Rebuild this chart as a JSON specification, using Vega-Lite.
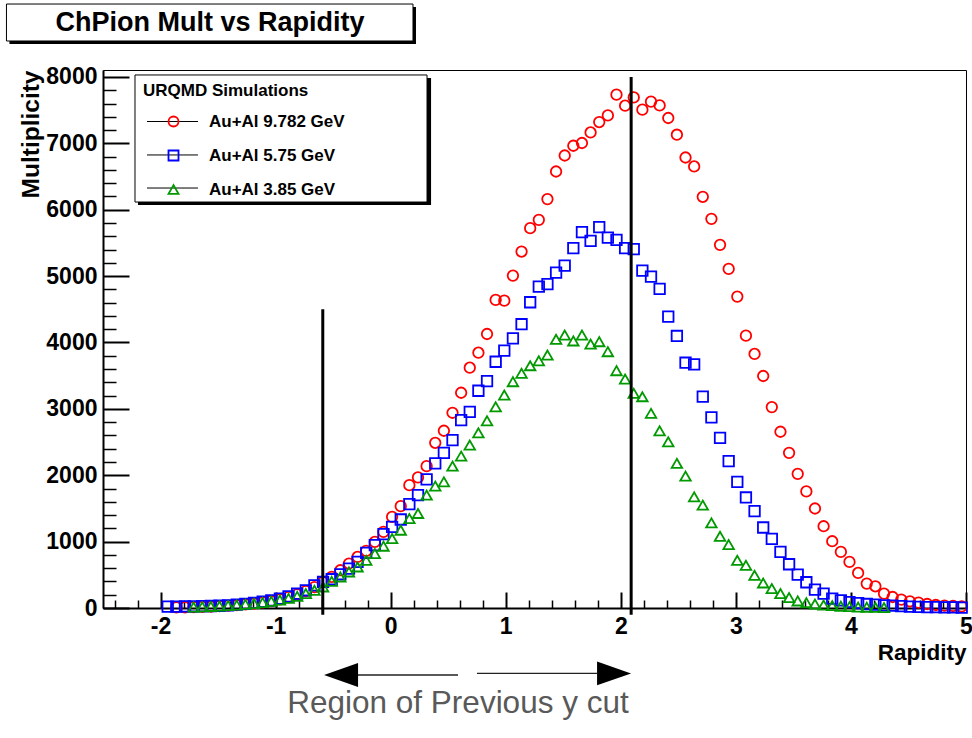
{
  "$schema": "https://vega.github.io/schema/vega-lite/v6.json",
  "width": 863,
  "height": 538,
  "autosize": {"type": "none"},
  "padding": {"left": 103, "top": 70, "right": 6, "bottom": 130},
  "background": "white",
  "config": {
    "view": {"stroke": "black", "strokeWidth": 1},
    "font": "Liberation Sans",
    "axis": {"grid": false, "domainColor": "black", "tickColor": "black", "labelColor": "black", "titleColor": "black"}
  },
  "resolve": {"axis": {"x": "independent", "y": "independent"}},
  "layer": [
    {
      "data": {"values": [
        {"rapidity": -1.8625, "mult": 8, "sample": "Au+Al 9.782 GeV"},
        {"rapidity": -1.7875, "mult": 10, "sample": "Au+Al 9.782 GeV"},
        {"rapidity": -1.7125, "mult": 13, "sample": "Au+Al 9.782 GeV"},
        {"rapidity": -1.6375, "mult": 17, "sample": "Au+Al 9.782 GeV"},
        {"rapidity": -1.5625, "mult": 22, "sample": "Au+Al 9.782 GeV"},
        {"rapidity": -1.4875, "mult": 28, "sample": "Au+Al 9.782 GeV"},
        {"rapidity": -1.4125, "mult": 35, "sample": "Au+Al 9.782 GeV"},
        {"rapidity": -1.3375, "mult": 44, "sample": "Au+Al 9.782 GeV"},
        {"rapidity": -1.2625, "mult": 55, "sample": "Au+Al 9.782 GeV"},
        {"rapidity": -1.1875, "mult": 68, "sample": "Au+Al 9.782 GeV"},
        {"rapidity": -1.1125, "mult": 85, "sample": "Au+Al 9.782 GeV"},
        {"rapidity": -1.0375, "mult": 105, "sample": "Au+Al 9.782 GeV"},
        {"rapidity": -0.9625, "mult": 130, "sample": "Au+Al 9.782 GeV"},
        {"rapidity": -0.8875, "mult": 165, "sample": "Au+Al 9.782 GeV"},
        {"rapidity": -0.8125, "mult": 205, "sample": "Au+Al 9.782 GeV"},
        {"rapidity": -0.7375, "mult": 255, "sample": "Au+Al 9.782 GeV"},
        {"rapidity": -0.6625, "mult": 315, "sample": "Au+Al 9.782 GeV"},
        {"rapidity": -0.5875, "mult": 392, "sample": "Au+Al 9.782 GeV"},
        {"rapidity": -0.5125, "mult": 468, "sample": "Au+Al 9.782 GeV"},
        {"rapidity": -0.4375, "mult": 569, "sample": "Au+Al 9.782 GeV"},
        {"rapidity": -0.3625, "mult": 670, "sample": "Au+Al 9.782 GeV"},
        {"rapidity": -0.2875, "mult": 769, "sample": "Au+Al 9.782 GeV"},
        {"rapidity": -0.2125, "mult": 860, "sample": "Au+Al 9.782 GeV"},
        {"rapidity": -0.1375, "mult": 995, "sample": "Au+Al 9.782 GeV"},
        {"rapidity": -0.0625, "mult": 1146, "sample": "Au+Al 9.782 GeV"},
        {"rapidity": 0.0125, "mult": 1373, "sample": "Au+Al 9.782 GeV"},
        {"rapidity": 0.0875, "mult": 1534, "sample": "Au+Al 9.782 GeV"},
        {"rapidity": 0.1625, "mult": 1851, "sample": "Au+Al 9.782 GeV"},
        {"rapidity": 0.2375, "mult": 1967, "sample": "Au+Al 9.782 GeV"},
        {"rapidity": 0.3125, "mult": 2137, "sample": "Au+Al 9.782 GeV"},
        {"rapidity": 0.3875, "mult": 2489, "sample": "Au+Al 9.782 GeV"},
        {"rapidity": 0.4625, "mult": 2670, "sample": "Au+Al 9.782 GeV"},
        {"rapidity": 0.5375, "mult": 2941, "sample": "Au+Al 9.782 GeV"},
        {"rapidity": 0.6125, "mult": 3243, "sample": "Au+Al 9.782 GeV"},
        {"rapidity": 0.6875, "mult": 3620, "sample": "Au+Al 9.782 GeV"},
        {"rapidity": 0.7625, "mult": 3846, "sample": "Au+Al 9.782 GeV"},
        {"rapidity": 0.8375, "mult": 4128, "sample": "Au+Al 9.782 GeV"},
        {"rapidity": 0.9125, "mult": 4641, "sample": "Au+Al 9.782 GeV"},
        {"rapidity": 0.9875, "mult": 4630, "sample": "Au+Al 9.782 GeV"},
        {"rapidity": 1.0625, "mult": 5008, "sample": "Au+Al 9.782 GeV"},
        {"rapidity": 1.1375, "mult": 5370, "sample": "Au+Al 9.782 GeV"},
        {"rapidity": 1.2125, "mult": 5722, "sample": "Au+Al 9.782 GeV"},
        {"rapidity": 1.2875, "mult": 5848, "sample": "Au+Al 9.782 GeV"},
        {"rapidity": 1.3625, "mult": 6160, "sample": "Au+Al 9.782 GeV"},
        {"rapidity": 1.4375, "mult": 6576, "sample": "Au+Al 9.782 GeV"},
        {"rapidity": 1.5125, "mult": 6817, "sample": "Au+Al 9.782 GeV"},
        {"rapidity": 1.5875, "mult": 6964, "sample": "Au+Al 9.782 GeV"},
        {"rapidity": 1.6625, "mult": 7005, "sample": "Au+Al 9.782 GeV"},
        {"rapidity": 1.7375, "mult": 7164, "sample": "Au+Al 9.782 GeV"},
        {"rapidity": 1.8125, "mult": 7321, "sample": "Au+Al 9.782 GeV"},
        {"rapidity": 1.8875, "mult": 7421, "sample": "Au+Al 9.782 GeV"},
        {"rapidity": 1.9625, "mult": 7733, "sample": "Au+Al 9.782 GeV"},
        {"rapidity": 2.0375, "mult": 7567, "sample": "Au+Al 9.782 GeV"},
        {"rapidity": 2.1125, "mult": 7692, "sample": "Au+Al 9.782 GeV"},
        {"rapidity": 2.1875, "mult": 7507, "sample": "Au+Al 9.782 GeV"},
        {"rapidity": 2.2625, "mult": 7628, "sample": "Au+Al 9.782 GeV"},
        {"rapidity": 2.3375, "mult": 7572, "sample": "Au+Al 9.782 GeV"},
        {"rapidity": 2.4125, "mult": 7382, "sample": "Au+Al 9.782 GeV"},
        {"rapidity": 2.4875, "mult": 7130, "sample": "Au+Al 9.782 GeV"},
        {"rapidity": 2.5625, "mult": 6787, "sample": "Au+Al 9.782 GeV"},
        {"rapidity": 2.6375, "mult": 6652, "sample": "Au+Al 9.782 GeV"},
        {"rapidity": 2.7125, "mult": 6195, "sample": "Au+Al 9.782 GeV"},
        {"rapidity": 2.7875, "mult": 5863, "sample": "Au+Al 9.782 GeV"},
        {"rapidity": 2.8625, "mult": 5471, "sample": "Au+Al 9.782 GeV"},
        {"rapidity": 2.9375, "mult": 5108, "sample": "Au+Al 9.782 GeV"},
        {"rapidity": 3.0125, "mult": 4691, "sample": "Au+Al 9.782 GeV"},
        {"rapidity": 3.0875, "mult": 4103, "sample": "Au+Al 9.782 GeV"},
        {"rapidity": 3.1625, "mult": 3827, "sample": "Au+Al 9.782 GeV"},
        {"rapidity": 3.2375, "mult": 3495, "sample": "Au+Al 9.782 GeV"},
        {"rapidity": 3.3125, "mult": 3027, "sample": "Au+Al 9.782 GeV"},
        {"rapidity": 3.3875, "mult": 2655, "sample": "Au+Al 9.782 GeV"},
        {"rapidity": 3.4625, "mult": 2338, "sample": "Au+Al 9.782 GeV"},
        {"rapidity": 3.5375, "mult": 2021, "sample": "Au+Al 9.782 GeV"},
        {"rapidity": 3.6125, "mult": 1756, "sample": "Au+Al 9.782 GeV"},
        {"rapidity": 3.6875, "mult": 1499, "sample": "Au+Al 9.782 GeV"},
        {"rapidity": 3.7625, "mult": 1232, "sample": "Au+Al 9.782 GeV"},
        {"rapidity": 3.8375, "mult": 1006, "sample": "Au+Al 9.782 GeV"},
        {"rapidity": 3.9125, "mult": 845, "sample": "Au+Al 9.782 GeV"},
        {"rapidity": 3.9875, "mult": 694, "sample": "Au+Al 9.782 GeV"},
        {"rapidity": 4.0625, "mult": 528, "sample": "Au+Al 9.782 GeV"},
        {"rapidity": 4.1375, "mult": 368, "sample": "Au+Al 9.782 GeV"},
        {"rapidity": 4.2125, "mult": 327, "sample": "Au+Al 9.782 GeV"},
        {"rapidity": 4.2875, "mult": 217, "sample": "Au+Al 9.782 GeV"},
        {"rapidity": 4.3625, "mult": 166, "sample": "Au+Al 9.782 GeV"},
        {"rapidity": 4.4375, "mult": 127, "sample": "Au+Al 9.782 GeV"},
        {"rapidity": 4.5125, "mult": 101, "sample": "Au+Al 9.782 GeV"},
        {"rapidity": 4.5875, "mult": 81, "sample": "Au+Al 9.782 GeV"},
        {"rapidity": 4.6625, "mult": 60, "sample": "Au+Al 9.782 GeV"},
        {"rapidity": 4.7375, "mult": 45, "sample": "Au+Al 9.782 GeV"},
        {"rapidity": 4.8125, "mult": 35, "sample": "Au+Al 9.782 GeV"},
        {"rapidity": 4.8875, "mult": 30, "sample": "Au+Al 9.782 GeV"},
        {"rapidity": 4.9625, "mult": 25, "sample": "Au+Al 9.782 GeV"},
        {"rapidity": -1.9375, "mult": 20, "sample": "Au+Al 5.75 GeV"},
        {"rapidity": -1.8625, "mult": 22, "sample": "Au+Al 5.75 GeV"},
        {"rapidity": -1.7875, "mult": 24, "sample": "Au+Al 5.75 GeV"},
        {"rapidity": -1.7125, "mult": 26, "sample": "Au+Al 5.75 GeV"},
        {"rapidity": -1.6375, "mult": 28, "sample": "Au+Al 5.75 GeV"},
        {"rapidity": -1.5625, "mult": 30, "sample": "Au+Al 5.75 GeV"},
        {"rapidity": -1.4875, "mult": 34, "sample": "Au+Al 5.75 GeV"},
        {"rapidity": -1.4125, "mult": 40, "sample": "Au+Al 5.75 GeV"},
        {"rapidity": -1.3375, "mult": 50, "sample": "Au+Al 5.75 GeV"},
        {"rapidity": -1.2625, "mult": 62, "sample": "Au+Al 5.75 GeV"},
        {"rapidity": -1.1875, "mult": 78, "sample": "Au+Al 5.75 GeV"},
        {"rapidity": -1.1125, "mult": 95, "sample": "Au+Al 5.75 GeV"},
        {"rapidity": -1.0375, "mult": 115, "sample": "Au+Al 5.75 GeV"},
        {"rapidity": -0.9625, "mult": 140, "sample": "Au+Al 5.75 GeV"},
        {"rapidity": -0.8875, "mult": 175, "sample": "Au+Al 5.75 GeV"},
        {"rapidity": -0.8125, "mult": 215, "sample": "Au+Al 5.75 GeV"},
        {"rapidity": -0.7375, "mult": 267, "sample": "Au+Al 5.75 GeV"},
        {"rapidity": -0.6625, "mult": 342, "sample": "Au+Al 5.75 GeV"},
        {"rapidity": -0.5875, "mult": 392, "sample": "Au+Al 5.75 GeV"},
        {"rapidity": -0.5125, "mult": 433, "sample": "Au+Al 5.75 GeV"},
        {"rapidity": -0.4375, "mult": 508, "sample": "Au+Al 5.75 GeV"},
        {"rapidity": -0.3625, "mult": 594, "sample": "Au+Al 5.75 GeV"},
        {"rapidity": -0.2875, "mult": 694, "sample": "Au+Al 5.75 GeV"},
        {"rapidity": -0.2125, "mult": 830, "sample": "Au+Al 5.75 GeV"},
        {"rapidity": -0.1375, "mult": 946, "sample": "Au+Al 5.75 GeV"},
        {"rapidity": -0.0625, "mult": 1112, "sample": "Au+Al 5.75 GeV"},
        {"rapidity": 0.0125, "mult": 1222, "sample": "Au+Al 5.75 GeV"},
        {"rapidity": 0.0875, "mult": 1333, "sample": "Au+Al 5.75 GeV"},
        {"rapidity": 0.1625, "mult": 1564, "sample": "Au+Al 5.75 GeV"},
        {"rapidity": 0.2375, "mult": 1700, "sample": "Au+Al 5.75 GeV"},
        {"rapidity": 0.3125, "mult": 1937, "sample": "Au+Al 5.75 GeV"},
        {"rapidity": 0.3875, "mult": 2178, "sample": "Au+Al 5.75 GeV"},
        {"rapidity": 0.4625, "mult": 2338, "sample": "Au+Al 5.75 GeV"},
        {"rapidity": 0.5375, "mult": 2529, "sample": "Au+Al 5.75 GeV"},
        {"rapidity": 0.6125, "mult": 2831, "sample": "Au+Al 5.75 GeV"},
        {"rapidity": 0.6875, "mult": 2956, "sample": "Au+Al 5.75 GeV"},
        {"rapidity": 0.7625, "mult": 3273, "sample": "Au+Al 5.75 GeV"},
        {"rapidity": 0.8375, "mult": 3419, "sample": "Au+Al 5.75 GeV"},
        {"rapidity": 0.9125, "mult": 3710, "sample": "Au+Al 5.75 GeV"},
        {"rapidity": 0.9875, "mult": 3876, "sample": "Au+Al 5.75 GeV"},
        {"rapidity": 1.0625, "mult": 4063, "sample": "Au+Al 5.75 GeV"},
        {"rapidity": 1.1375, "mult": 4275, "sample": "Au+Al 5.75 GeV"},
        {"rapidity": 1.2125, "mult": 4606, "sample": "Au+Al 5.75 GeV"},
        {"rapidity": 1.2875, "mult": 4842, "sample": "Au+Al 5.75 GeV"},
        {"rapidity": 1.3625, "mult": 4878, "sample": "Au+Al 5.75 GeV"},
        {"rapidity": 1.4375, "mult": 5053, "sample": "Au+Al 5.75 GeV"},
        {"rapidity": 1.5125, "mult": 5158, "sample": "Au+Al 5.75 GeV"},
        {"rapidity": 1.5875, "mult": 5421, "sample": "Au+Al 5.75 GeV"},
        {"rapidity": 1.6625, "mult": 5662, "sample": "Au+Al 5.75 GeV"},
        {"rapidity": 1.7375, "mult": 5531, "sample": "Au+Al 5.75 GeV"},
        {"rapidity": 1.8125, "mult": 5738, "sample": "Au+Al 5.75 GeV"},
        {"rapidity": 1.8875, "mult": 5581, "sample": "Au+Al 5.75 GeV"},
        {"rapidity": 1.9625, "mult": 5546, "sample": "Au+Al 5.75 GeV"},
        {"rapidity": 2.0375, "mult": 5421, "sample": "Au+Al 5.75 GeV"},
        {"rapidity": 2.1125, "mult": 5406, "sample": "Au+Al 5.75 GeV"},
        {"rapidity": 2.1875, "mult": 5083, "sample": "Au+Al 5.75 GeV"},
        {"rapidity": 2.2625, "mult": 4992, "sample": "Au+Al 5.75 GeV"},
        {"rapidity": 2.3375, "mult": 4807, "sample": "Au+Al 5.75 GeV"},
        {"rapidity": 2.4125, "mult": 4389, "sample": "Au+Al 5.75 GeV"},
        {"rapidity": 2.4875, "mult": 4098, "sample": "Au+Al 5.75 GeV"},
        {"rapidity": 2.5625, "mult": 3695, "sample": "Au+Al 5.75 GeV"},
        {"rapidity": 2.6375, "mult": 3671, "sample": "Au+Al 5.75 GeV"},
        {"rapidity": 2.7125, "mult": 3183, "sample": "Au+Al 5.75 GeV"},
        {"rapidity": 2.7875, "mult": 2872, "sample": "Au+Al 5.75 GeV"},
        {"rapidity": 2.8625, "mult": 2564, "sample": "Au+Al 5.75 GeV"},
        {"rapidity": 2.9375, "mult": 2213, "sample": "Au+Al 5.75 GeV"},
        {"rapidity": 3.0125, "mult": 1900, "sample": "Au+Al 5.75 GeV"},
        {"rapidity": 3.0875, "mult": 1665, "sample": "Au+Al 5.75 GeV"},
        {"rapidity": 3.1625, "mult": 1459, "sample": "Au+Al 5.75 GeV"},
        {"rapidity": 3.2375, "mult": 1213, "sample": "Au+Al 5.75 GeV"},
        {"rapidity": 3.3125, "mult": 1041, "sample": "Au+Al 5.75 GeV"},
        {"rapidity": 3.3875, "mult": 845, "sample": "Au+Al 5.75 GeV"},
        {"rapidity": 3.4625, "mult": 659, "sample": "Au+Al 5.75 GeV"},
        {"rapidity": 3.5375, "mult": 504, "sample": "Au+Al 5.75 GeV"},
        {"rapidity": 3.6125, "mult": 388, "sample": "Au+Al 5.75 GeV"},
        {"rapidity": 3.6875, "mult": 278, "sample": "Au+Al 5.75 GeV"},
        {"rapidity": 3.7625, "mult": 217, "sample": "Au+Al 5.75 GeV"},
        {"rapidity": 3.8375, "mult": 142, "sample": "Au+Al 5.75 GeV"},
        {"rapidity": 3.9125, "mult": 116, "sample": "Au+Al 5.75 GeV"},
        {"rapidity": 3.9875, "mult": 90, "sample": "Au+Al 5.75 GeV"},
        {"rapidity": 4.0625, "mult": 75, "sample": "Au+Al 5.75 GeV"},
        {"rapidity": 4.1375, "mult": 60, "sample": "Au+Al 5.75 GeV"},
        {"rapidity": 4.2125, "mult": 50, "sample": "Au+Al 5.75 GeV"},
        {"rapidity": 4.2875, "mult": 40, "sample": "Au+Al 5.75 GeV"},
        {"rapidity": 4.3625, "mult": 35, "sample": "Au+Al 5.75 GeV"},
        {"rapidity": 4.4375, "mult": 28, "sample": "Au+Al 5.75 GeV"},
        {"rapidity": 4.5125, "mult": 22, "sample": "Au+Al 5.75 GeV"},
        {"rapidity": 4.5875, "mult": 18, "sample": "Au+Al 5.75 GeV"},
        {"rapidity": 4.6625, "mult": 14, "sample": "Au+Al 5.75 GeV"},
        {"rapidity": 4.7375, "mult": 12, "sample": "Au+Al 5.75 GeV"},
        {"rapidity": 4.8125, "mult": 10, "sample": "Au+Al 5.75 GeV"},
        {"rapidity": 4.8875, "mult": 8, "sample": "Au+Al 5.75 GeV"},
        {"rapidity": 4.9625, "mult": 6, "sample": "Au+Al 5.75 GeV"},
        {"rapidity": -1.7125, "mult": 14, "sample": "Au+Al 3.85 GeV"},
        {"rapidity": -1.6375, "mult": 18, "sample": "Au+Al 3.85 GeV"},
        {"rapidity": -1.5625, "mult": 23, "sample": "Au+Al 3.85 GeV"},
        {"rapidity": -1.4875, "mult": 29, "sample": "Au+Al 3.85 GeV"},
        {"rapidity": -1.4125, "mult": 36, "sample": "Au+Al 3.85 GeV"},
        {"rapidity": -1.3375, "mult": 45, "sample": "Au+Al 3.85 GeV"},
        {"rapidity": -1.2625, "mult": 55, "sample": "Au+Al 3.85 GeV"},
        {"rapidity": -1.1875, "mult": 68, "sample": "Au+Al 3.85 GeV"},
        {"rapidity": -1.1125, "mult": 82, "sample": "Au+Al 3.85 GeV"},
        {"rapidity": -1.0375, "mult": 100, "sample": "Au+Al 3.85 GeV"},
        {"rapidity": -0.9625, "mult": 120, "sample": "Au+Al 3.85 GeV"},
        {"rapidity": -0.8875, "mult": 145, "sample": "Au+Al 3.85 GeV"},
        {"rapidity": -0.8125, "mult": 175, "sample": "Au+Al 3.85 GeV"},
        {"rapidity": -0.7375, "mult": 217, "sample": "Au+Al 3.85 GeV"},
        {"rapidity": -0.6625, "mult": 267, "sample": "Au+Al 3.85 GeV"},
        {"rapidity": -0.5875, "mult": 317, "sample": "Au+Al 3.85 GeV"},
        {"rapidity": -0.5125, "mult": 403, "sample": "Au+Al 3.85 GeV"},
        {"rapidity": -0.4375, "mult": 468, "sample": "Au+Al 3.85 GeV"},
        {"rapidity": -0.3625, "mult": 543, "sample": "Au+Al 3.85 GeV"},
        {"rapidity": -0.2875, "mult": 618, "sample": "Au+Al 3.85 GeV"},
        {"rapidity": -0.2125, "mult": 719, "sample": "Au+Al 3.85 GeV"},
        {"rapidity": -0.1375, "mult": 821, "sample": "Au+Al 3.85 GeV"},
        {"rapidity": -0.0625, "mult": 931, "sample": "Au+Al 3.85 GeV"},
        {"rapidity": 0.0125, "mult": 1047, "sample": "Au+Al 3.85 GeV"},
        {"rapidity": 0.0875, "mult": 1172, "sample": "Au+Al 3.85 GeV"},
        {"rapidity": 0.1625, "mult": 1348, "sample": "Au+Al 3.85 GeV"},
        {"rapidity": 0.2375, "mult": 1424, "sample": "Au+Al 3.85 GeV"},
        {"rapidity": 0.3125, "mult": 1700, "sample": "Au+Al 3.85 GeV"},
        {"rapidity": 0.3875, "mult": 1836, "sample": "Au+Al 3.85 GeV"},
        {"rapidity": 0.4625, "mult": 1900, "sample": "Au+Al 3.85 GeV"},
        {"rapidity": 0.5375, "mult": 2137, "sample": "Au+Al 3.85 GeV"},
        {"rapidity": 0.6125, "mult": 2288, "sample": "Au+Al 3.85 GeV"},
        {"rapidity": 0.6875, "mult": 2454, "sample": "Au+Al 3.85 GeV"},
        {"rapidity": 0.7625, "mult": 2640, "sample": "Au+Al 3.85 GeV"},
        {"rapidity": 0.8375, "mult": 2821, "sample": "Au+Al 3.85 GeV"},
        {"rapidity": 0.9125, "mult": 3032, "sample": "Au+Al 3.85 GeV"},
        {"rapidity": 0.9875, "mult": 3208, "sample": "Au+Al 3.85 GeV"},
        {"rapidity": 1.0625, "mult": 3409, "sample": "Au+Al 3.85 GeV"},
        {"rapidity": 1.1375, "mult": 3535, "sample": "Au+Al 3.85 GeV"},
        {"rapidity": 1.2125, "mult": 3650, "sample": "Au+Al 3.85 GeV"},
        {"rapidity": 1.2875, "mult": 3725, "sample": "Au+Al 3.85 GeV"},
        {"rapidity": 1.3625, "mult": 3811, "sample": "Au+Al 3.85 GeV"},
        {"rapidity": 1.4375, "mult": 4048, "sample": "Au+Al 3.85 GeV"},
        {"rapidity": 1.5125, "mult": 4113, "sample": "Au+Al 3.85 GeV"},
        {"rapidity": 1.5875, "mult": 4023, "sample": "Au+Al 3.85 GeV"},
        {"rapidity": 1.6625, "mult": 4113, "sample": "Au+Al 3.85 GeV"},
        {"rapidity": 1.7375, "mult": 3977, "sample": "Au+Al 3.85 GeV"},
        {"rapidity": 1.8125, "mult": 4012, "sample": "Au+Al 3.85 GeV"},
        {"rapidity": 1.8875, "mult": 3861, "sample": "Au+Al 3.85 GeV"},
        {"rapidity": 1.9625, "mult": 3575, "sample": "Au+Al 3.85 GeV"},
        {"rapidity": 2.0375, "mult": 3449, "sample": "Au+Al 3.85 GeV"},
        {"rapidity": 2.1125, "mult": 3234, "sample": "Au+Al 3.85 GeV"},
        {"rapidity": 2.1875, "mult": 3183, "sample": "Au+Al 3.85 GeV"},
        {"rapidity": 2.2625, "mult": 2932, "sample": "Au+Al 3.85 GeV"},
        {"rapidity": 2.3375, "mult": 2670, "sample": "Au+Al 3.85 GeV"},
        {"rapidity": 2.4125, "mult": 2504, "sample": "Au+Al 3.85 GeV"},
        {"rapidity": 2.4875, "mult": 2178, "sample": "Au+Al 3.85 GeV"},
        {"rapidity": 2.5625, "mult": 1986, "sample": "Au+Al 3.85 GeV"},
        {"rapidity": 2.6375, "mult": 1674, "sample": "Au+Al 3.85 GeV"},
        {"rapidity": 2.7125, "mult": 1549, "sample": "Au+Al 3.85 GeV"},
        {"rapidity": 2.7875, "mult": 1282, "sample": "Au+Al 3.85 GeV"},
        {"rapidity": 2.8625, "mult": 1081, "sample": "Au+Al 3.85 GeV"},
        {"rapidity": 2.9375, "mult": 956, "sample": "Au+Al 3.85 GeV"},
        {"rapidity": 3.0125, "mult": 719, "sample": "Au+Al 3.85 GeV"},
        {"rapidity": 3.0875, "mult": 644, "sample": "Au+Al 3.85 GeV"},
        {"rapidity": 3.1625, "mult": 493, "sample": "Au+Al 3.85 GeV"},
        {"rapidity": 3.2375, "mult": 377, "sample": "Au+Al 3.85 GeV"},
        {"rapidity": 3.3125, "mult": 293, "sample": "Au+Al 3.85 GeV"},
        {"rapidity": 3.3875, "mult": 217, "sample": "Au+Al 3.85 GeV"},
        {"rapidity": 3.4625, "mult": 157, "sample": "Au+Al 3.85 GeV"},
        {"rapidity": 3.5375, "mult": 106, "sample": "Au+Al 3.85 GeV"},
        {"rapidity": 3.6125, "mult": 80, "sample": "Au+Al 3.85 GeV"},
        {"rapidity": 3.6875, "mult": 60, "sample": "Au+Al 3.85 GeV"},
        {"rapidity": 3.7625, "mult": 45, "sample": "Au+Al 3.85 GeV"},
        {"rapidity": 3.8375, "mult": 35, "sample": "Au+Al 3.85 GeV"},
        {"rapidity": 3.9125, "mult": 27, "sample": "Au+Al 3.85 GeV"},
        {"rapidity": 3.9875, "mult": 20, "sample": "Au+Al 3.85 GeV"},
        {"rapidity": 4.0625, "mult": 15, "sample": "Au+Al 3.85 GeV"},
        {"rapidity": 4.1375, "mult": 12, "sample": "Au+Al 3.85 GeV"},
        {"rapidity": 4.2125, "mult": 9, "sample": "Au+Al 3.85 GeV"},
        {"rapidity": 4.2875, "mult": 7, "sample": "Au+Al 3.85 GeV"}
      ]},
      "mark": {"type": "point", "filled": false, "strokeWidth": 1.8, "opacity": 1, "size": 110},
      "encoding": {
        "x": {"field": "rapidity", "type": "quantitative", "scale": {"domain": [-2.5, 5], "nice": false, "zero": false},
          "axis": {"orient": "bottom", "values": [-2, -1, 0, 1, 2, 3, 4, 5], "tickSize": -16, "tickWidth": 2, "domainWidth": 2,
            "labelExpr": "'' + datum.value", "labelFont": "Liberation Sans", "labelFontWeight": "bold", "labelFontSize": 23, "labelPadding": 23, "labelFlush": false, "labelOverlap": false,
            "title": "Rapidity", "titleAnchor": "end", "titleFont": "Liberation Sans", "titleFontWeight": "bold", "titleFontSize": 22.5, "titlePadding": 3}},
        "y": {"field": "mult", "type": "quantitative", "scale": {"domain": [0, 8105], "nice": false},
          "axis": {"orient": "left", "values": [0, 1000, 2000, 3000, 4000, 5000, 6000, 7000, 8000], "tickSize": -26, "tickWidth": 2, "domainWidth": 2,
            "format": "d", "labelFont": "Liberation Sans", "labelFontWeight": "bold", "labelFontSize": 23, "labelPadding": 32, "labelFlush": false, "labelOverlap": false,
            "title": "Multiplicity", "titleAnchor": "end", "titleFont": "Liberation Sans", "titleFontWeight": "bold", "titleFontSize": 24.5, "titlePadding": 2}},
        "color": {"field": "sample", "type": "nominal",
          "scale": {"domain": ["Au+Al 9.782 GeV", "Au+Al 5.75 GeV", "Au+Al 3.85 GeV"], "range": ["#ff0000", "#0000ff", "#009900"]},
          "legend": {"orient": "none", "legendX": 40, "legendY": 13, "padding": 0, "title": "URQMD Simulations",
            "titleFont": "Liberation Sans", "titleFontSize": 17, "titleFontWeight": "bold", "titleColor": "black", "titlePadding": 13,
            "labelFont": "Liberation Sans", "labelFontSize": 17, "labelFontWeight": "bold", "labelColor": "black",
            "symbolSize": 100, "symbolStrokeWidth": 1.8, "symbolOffset": 22, "labelOffset": 27, "rowPadding": 15}},
        "shape": {"field": "sample", "type": "nominal",
          "scale": {"domain": ["Au+Al 9.782 GeV", "Au+Al 5.75 GeV", "Au+Al 3.85 GeV"], "range": ["circle", "square", "triangle-up"]},
          "legend": {"orient": "none", "legendX": 40, "legendY": 13, "padding": 0, "title": "URQMD Simulations",
            "titleFont": "Liberation Sans", "titleFontSize": 17, "titleFontWeight": "bold", "titleColor": "black", "titlePadding": 13,
            "labelFont": "Liberation Sans", "labelFontSize": 17, "labelFontWeight": "bold", "labelColor": "black",
            "symbolSize": 100, "symbolStrokeWidth": 1.8, "symbolOffset": 22, "labelOffset": 27, "rowPadding": 15}}
      }
    },
    {
      "data": {"values": [{"cut": -0.59, "bottom": -100, "top": 4500}, {"cut": 2.09, "bottom": -100, "top": 8000}]},
      "mark": {"type": "rule", "color": "black", "strokeWidth": 3},
      "encoding": {
        "x": {"field": "cut", "type": "quantitative",
          "axis": {"orient": "bottom", "values": [-2.4, -2.2, -1.8, -1.6, -1.4, -1.2, -0.8, -0.6, -0.4, -0.2, 0.2, 0.4, 0.6, 0.8, 1.2, 1.4, 1.6, 1.8, 2.2, 2.4, 2.6, 2.8, 3.2, 3.4, 3.6, 3.8, 4.2, 4.4, 4.6, 4.8], "tickSize": -8, "tickWidth": 1.5, "labels": false, "domain": false, "title": null}},
        "y": {"field": "bottom", "type": "quantitative",
          "axis": {"orient": "left", "values": [200, 400, 600, 800, 1200, 1400, 1600, 1800, 2200, 2400, 2600, 2800, 3200, 3400, 3600, 3800, 4200, 4400, 4600, 4800, 5200, 5400, 5600, 5800, 6200, 6400, 6600, 6800, 7200, 7400, 7600, 7800], "tickSize": -13, "tickWidth": 1.5, "labels": false, "domain": false, "title": null}},
        "y2": {"field": "top"}
      }
    },
    {
      "data": {"values": [{}]},
      "mark": {"type": "rect", "fill": "black"},
      "encoding": {
        "x": {"datum": -3.313, "type": "quantitative", "axis": null},
        "x2": {"datum": 0.220},
        "y": {"datum": 9054, "type": "quantitative", "axis": null},
        "y2": {"datum": 8497}
      }
    },
    {
      "data": {"values": [{}]},
      "mark": {"type": "rect", "fill": "white", "stroke": "black", "strokeWidth": 1},
      "encoding": {
        "x": {"datum": -3.339, "type": "quantitative", "axis": null},
        "x2": {"datum": 0.194},
        "y": {"datum": 9099, "type": "quantitative", "axis": null},
        "y2": {"datum": 8542}
      }
    },
    {
      "data": {"values": [{"label": "ChPion Mult vs Rapidity"}]},
      "mark": {"type": "text", "font": "Liberation Sans", "fontWeight": "bold", "fontSize": 27, "align": "center", "baseline": "middle", "color": "black"},
      "encoding": {
        "x": {"datum": -1.570, "type": "quantitative", "axis": null},
        "y": {"datum": 8813, "type": "quantitative", "axis": null},
        "text": {"field": "label", "type": "nominal"}
      }
    },
    {
      "data": {"values": [{}]},
      "mark": {"type": "rect", "fill": "black"},
      "encoding": {
        "x": {"datum": -2.196, "type": "quantitative", "axis": null},
        "x2": {"datum": 0.351},
        "y": {"datum": 7984, "type": "quantitative", "axis": null},
        "y2": {"datum": 6071}
      }
    },
    {
      "data": {"values": [{}]},
      "mark": {"type": "rect", "fill": "white", "stroke": "black", "strokeWidth": 1},
      "encoding": {
        "x": {"datum": -2.222, "type": "quantitative", "axis": null},
        "x2": {"datum": 0.316},
        "y": {"datum": 8030, "type": "quantitative", "axis": null},
        "y2": {"datum": 6116}
      }
    },
    {
      "data": {"values": [{}]},
      "mark": {"type": "rule", "color": "black", "strokeWidth": 1},
      "encoding": {
        "x": {"datum": -2.1176, "type": "quantitative", "axis": null},
        "x2": {"datum": -1.6744},
        "y": {"datum": 7329, "type": "quantitative", "axis": null}
      }
    },
    {
      "data": {"values": [{}]},
      "mark": {"type": "rule", "color": "black", "strokeWidth": 1},
      "encoding": {
        "x": {"datum": -2.1176, "type": "quantitative", "axis": null},
        "x2": {"datum": -1.6744},
        "y": {"datum": 6825, "type": "quantitative", "axis": null}
      }
    },
    {
      "data": {"values": [{}]},
      "mark": {"type": "rule", "color": "black", "strokeWidth": 1},
      "encoding": {
        "x": {"datum": -2.1176, "type": "quantitative", "axis": null},
        "x2": {"datum": -1.6744},
        "y": {"datum": 6327, "type": "quantitative", "axis": null}
      }
    },
    {
      "data": {"values": [{}]},
      "mark": {"type": "rule", "color": "#222222", "strokeWidth": 1.4},
      "encoding": {
        "x": {"datum": -0.284, "type": "quantitative", "axis": null},
        "x2": {"datum": 0.585},
        "y": {"datum": -1009, "type": "quantitative", "axis": null}
      }
    },
    {
      "data": {"values": [{}]},
      "mark": {"type": "rule", "color": "#222222", "strokeWidth": 1.4},
      "encoding": {
        "x": {"datum": 0.750, "type": "quantitative", "axis": null},
        "x2": {"datum": 1.793},
        "y": {"datum": -985, "type": "quantitative", "axis": null}
      }
    },
    {
      "data": {"values": [{}]},
      "mark": {"type": "point", "shape": "M0,0L2,-0.7L2,0.7Z", "size": 1156, "filled": true, "color": "black", "opacity": 1, "strokeWidth": 0},
      "encoding": {
        "x": {"datum": -0.579, "type": "quantitative", "axis": null},
        "y": {"datum": -1009, "type": "quantitative", "axis": null}
      }
    },
    {
      "data": {"values": [{}]},
      "mark": {"type": "point", "shape": "M0,0L-2,-0.7L-2,0.7Z", "size": 1156, "filled": true, "color": "black", "opacity": 1, "strokeWidth": 0},
      "encoding": {
        "x": {"datum": 2.089, "type": "quantitative", "axis": null},
        "y": {"datum": -985, "type": "quantitative", "axis": null}
      }
    },
    {
      "data": {"values": [{"note": "Region of Previous y cut"}]},
      "mark": {"type": "text", "font": "Liberation Sans", "fontSize": 31.5, "align": "center", "baseline": "alphabetic", "color": "#595959"},
      "encoding": {
        "x": {"datum": 0.585, "type": "quantitative", "axis": null},
        "y": {"datum": -1582, "type": "quantitative", "axis": null},
        "text": {"field": "note", "type": "nominal"}
      }
    }
  ]
}
